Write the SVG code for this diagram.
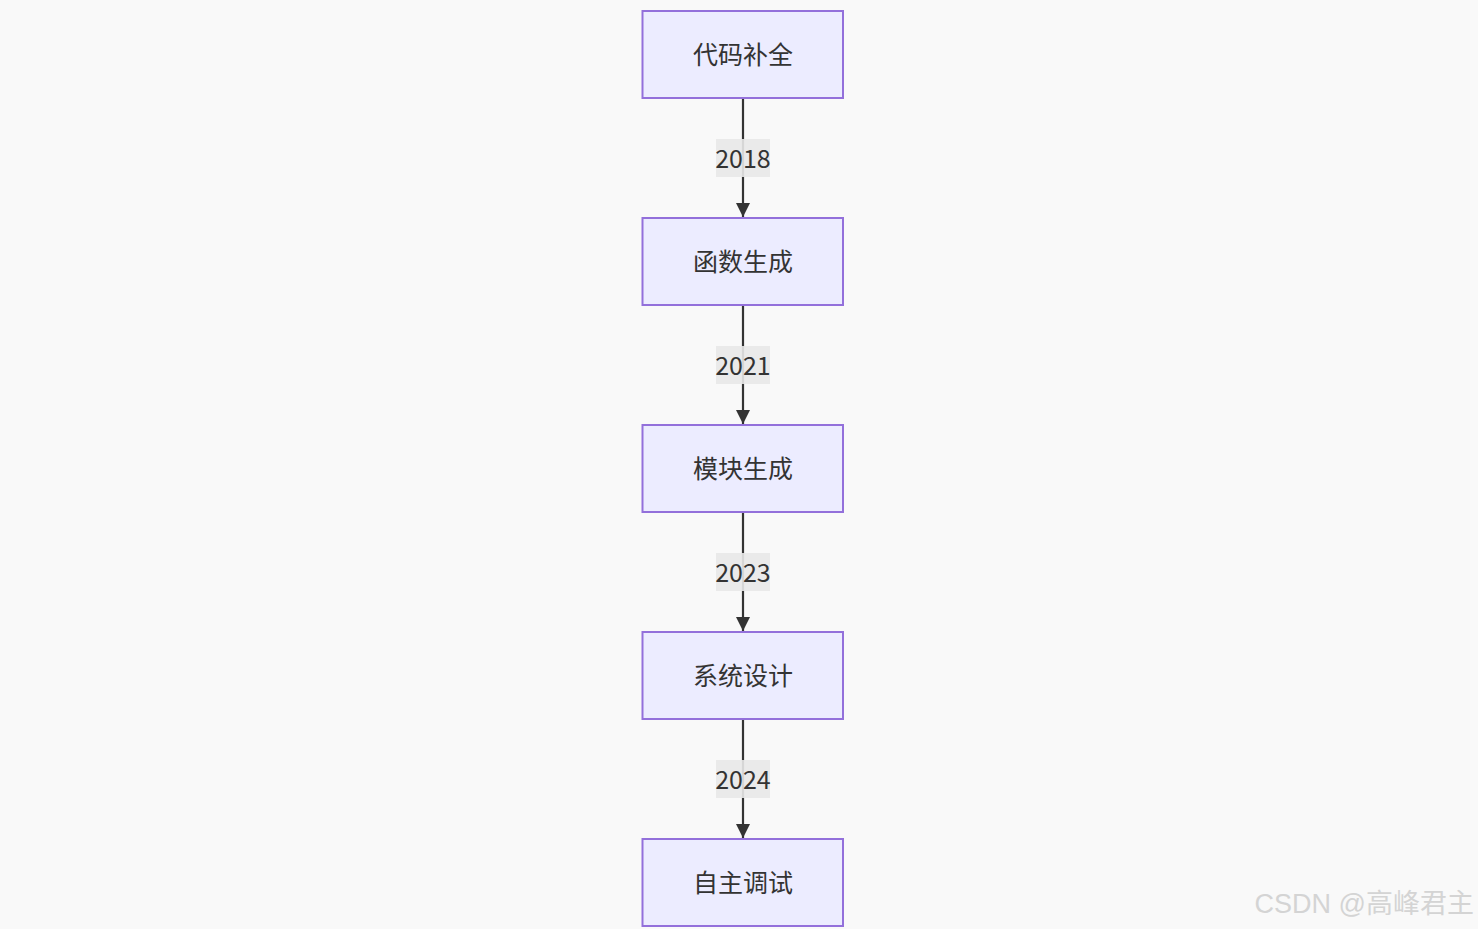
<svg xmlns="http://www.w3.org/2000/svg" width="1478" height="929" viewBox="0 0 1478 929">
<defs>
<style>
.node rect{fill:#ECECFF;stroke:#9370DB;stroke-width:2}
.node text{font-family:"Noto Sans CJK SC","Noto Sans",sans-serif;font-size:25px;fill:#333;text-anchor:middle;dominant-baseline:central}
.edge line{stroke:#333;stroke-width:2.2}
.lbl rect{fill:#E8E8E8;opacity:0.9}
.lbl text{font-family:"Noto Sans CJK SC","Noto Sans",sans-serif;font-size:25px;fill:#333;text-anchor:middle;dominant-baseline:central}
</style>
<marker id="arr" viewBox="0 0 10 10" refX="10" refY="5" markerWidth="14" markerHeight="14" markerUnits="userSpaceOnUse" orient="auto">
<path d="M0,0 L10,5 L0,10 z" fill="#333"/>
</marker>
</defs>
<rect width="1478" height="929" fill="#F9F9F9"/>
<g id="connectors" class="edge">
<line x1="743" y1="99" x2="743" y2="217" marker-end="url(#arr)"/>
<line x1="743" y1="306" x2="743" y2="424" marker-end="url(#arr)"/>
<line x1="743" y1="513" x2="743" y2="631" marker-end="url(#arr)"/>
<line x1="743" y1="720" x2="743" y2="838" marker-end="url(#arr)"/>
</g>
<g id="labels">
<g class="lbl"><rect x="716" y="139" width="54" height="38"/><text x="743" y="157">2018</text></g>
<g class="lbl"><rect x="716" y="346" width="54" height="38"/><text x="743" y="364">2021</text></g>
<g class="lbl"><rect x="716" y="553" width="54" height="38"/><text x="743" y="571">2023</text></g>
<g class="lbl"><rect x="716" y="760" width="54" height="38"/><text x="743" y="778">2024</text></g>
</g>
<g id="n1" class="node"><rect x="642.5" y="11" width="200.5" height="87"/><text x="743" y="53">代码补全</text></g>
<g id="n2" class="node"><rect x="642.5" y="218" width="200.5" height="87"/><text x="743" y="260">函数生成</text></g>
<g id="n3" class="node"><rect x="642.5" y="425" width="200.5" height="87"/><text x="743" y="467">模块生成</text></g>
<g id="n4" class="node"><rect x="642.5" y="632" width="200.5" height="87"/><text x="743" y="674">系统设计</text></g>
<g id="n5" class="node"><rect x="642.5" y="839" width="200.5" height="87"/><text x="743" y="881">自主调试</text></g>
<text x="1474" y="913" font-family="'Liberation Sans','Noto Sans CJK SC',sans-serif" font-size="27" fill="#D4D4D4" text-anchor="end">CSDN @高峰君主</text>
</svg>
